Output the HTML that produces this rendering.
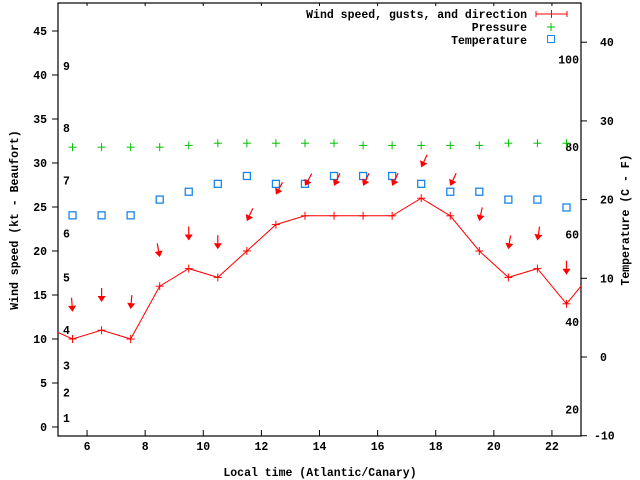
<!DOCTYPE html>
<html><head><meta charset="utf-8"><style>
body{margin:0;background:#fff}
svg{display:block}
text{font-family:"Liberation Mono",monospace;font-size:11.5px;font-weight:bold;fill:#000}
</style></head><body>
<svg id="chart" width="640" height="480" viewBox="0 0 640 480" xmlns="http://www.w3.org/2000/svg">
<rect width="640" height="480" fill="#fff"/>
<g id="grid"></g>
<g id="marks"></g>
<g id="legend">
<text x="527" y="18" text-anchor="end">Wind speed, gusts, and direction</text>
<text x="527" y="31" text-anchor="end">Pressure</text>
<text x="527" y="44" text-anchor="end">Temperature</text>
<g stroke="#f00" stroke-width="1"><line x1="536" y1="14" x2="567" y2="14"/><line x1="536" y1="11" x2="536" y2="17"/><line x1="567" y1="11" x2="567" y2="17"/><line x1="551.5" y1="10" x2="551.5" y2="18"/></g>
<g stroke="#00c000"><line x1="547" y1="27" x2="555" y2="27"/><line x1="551" y1="23" x2="551" y2="31"/></g>
<rect x="547.5" y="35.5" width="7" height="7" fill="none" stroke="#1a86e8"/>
</g>
<text x="320" y="476" text-anchor="middle">Local time (Atlantic/Canary)</text>
<text transform="translate(18,220) rotate(-90)" text-anchor="middle">Wind speed (kt - Beaufort)</text>
<text transform="translate(629,220) rotate(-90)" text-anchor="middle">Temperature (C - F)</text>
</svg>
<script>
const hours=[5.5,6.5,7.5,8.5,9.5,10.5,11.5,12.5,13.5,14.5,15.5,16.5,17.5,18.5,19.5,20.5,21.5,22.5];
const windSpeed=[10,11,10,16,18,17,20,23,24,24,24,24,26,24,20,17,18,14];
const windEdgeHours=[4.5,23.5];
const windEdgeSpeed=[11.5,18];
const gusts=[13.1,14.2,13.4,19.3,21.2,20.2,23.4,26.4,27.4,27.4,27.4,27.4,29.5,27.4,23.4,20.2,21.2,17.3];
const windDir=[356,0,5,350,0,0,25,28,29,25,25,25,25,25,12,9,9,0];
const pressure=[31.8,31.8,31.8,31.8,32.0,32.25,32.25,32.25,32.25,32.25,32.0,32.0,32.0,32.0,32.0,32.25,32.25,32.25];
const temperature=[18,18,18,20,21,22,23,22,22,23,23,23,22,21,21,20,20,19];
const xTicks=[6,8,10,12,14,16,18,20,22];
const yTicks=[0,5,10,15,20,25,30,35,40,45];
const y2Ticks=[-10,0,10,20,30,40];
const beaufortLabels=["1","2","3","4","5","6","7","8","9"];
const beaufortKt=[1.0,3.9,7.0,11.0,17.0,22.0,28.0,34.0,41.0];
const fahrenheitTicks=[20,40,60,80,100];

const L=58,R=581,T=3,B=436;
const X=h=>L+(h-5)*(R-L)/18;
const Y=v=>427-v*8.8;
const Y2=c=>357-c*7.87;
const NS="http://www.w3.org/2000/svg";
const svg=document.getElementById('chart');
const grid=document.getElementById('grid');
const marks=document.getElementById('marks');
function mk(tag,attrs,parent){const e=document.createElementNS(NS,tag);for(const k in attrs)e.setAttribute(k,attrs[k]);parent.appendChild(e);return e;}

const border=mk('rect',{x:L,y:T,width:R-L,height:B-T,fill:'none',stroke:'#000','stroke-width':1.2},grid);



xTicks.forEach(t=>{
  const x=X(t);
  const a=mk('line',{x1:x,y1:B,x2:x,y2:B-6,stroke:'#000'},grid);
  
  
  mk('line',{x1:x,y1:T,x2:x,y2:T+3,stroke:'#000'},grid);
  const tx=mk('text',{x:x,y:B+14,'text-anchor':'middle'},grid);
  tx.textContent=t;
  
  
});
yTicks.forEach(t=>{
  const y=Y(t);
  const a=mk('line',{x1:L-6,y1:y,x2:L,y2:y,stroke:'#000'},grid);
  
  
  const tx=mk('text',{x:47,y:y+4,'text-anchor':'end'},grid);
  tx.textContent=t;
  
  
});
y2Ticks.forEach(t=>{
  const y=Y2(t);
  const a=mk('line',{x1:R,y1:y,x2:R+6,y2:y,stroke:'#000'},grid);
  
  
  const tx=mk('text',{x:t<0?594:600,y:y+4,'text-anchor':'start'},grid);
  tx.textContent=t;
  
  
});
beaufortLabels.forEach((b,i)=>{
  const tx=mk('text',{x:63,y:Y(beaufortKt[i])+4},grid);
  tx.textContent=b;
  
  
});
fahrenheitTicks.forEach(f=>{
  const tx=mk('text',{x:579,y:Y2((f-32)/1.8)+4,'text-anchor':'end'},grid);
  tx.textContent=f;
  
  
});

const clip=mk('clipPath',{id:'pc'},svg);
mk('rect',{x:L,y:T,width:R-L,height:B-T},clip);
marks.setAttribute('clip-path','url(#pc)');

// wind line
const allH=[windEdgeHours[0]].concat(hours,[windEdgeHours[1]]);
const allS=[windEdgeSpeed[0]].concat(windSpeed,[windEdgeSpeed[1]]);
const pl=mk('polyline',{points:allH.map((h,i)=>X(h)+','+Y(allS[i])).join(' '),fill:'none',stroke:'#f00','stroke-width':1},marks);


hours.forEach((h,i)=>{
  const x=X(h),y=Y(windSpeed[i]);
  const g=mk('g',{stroke:'#f00','stroke-width':1},marks);
  
  
  mk('line',{x1:x-4,y1:y,x2:x+4,y2:y},g);mk('line',{x1:x,y1:y-4,x2:x,y2:y+4},g);
});
// pressure
hours.forEach((h,i)=>{
  const x=X(h),y=Y(pressure[i]);
  const g=mk('g',{stroke:'#00c000','stroke-width':1},marks);
  
  
  mk('line',{x1:x-4,y1:y,x2:x+4,y2:y},g);mk('line',{x1:x,y1:y-4,x2:x,y2:y+4},g);
});
// temperature
hours.forEach((h,i)=>{
  const x=X(h),y=Y2(temperature[i]);
  const r=mk('rect',{x:x-3.5,y:y-3.5,width:7,height:7,fill:'none',stroke:'#1a86e8','stroke-width':1.3},marks);
  
  
});
// gust/direction arrows
hours.forEach((h,i)=>{
  const tx=X(h),ty=Y(gusts[i]);
  const d=windDir[i]*Math.PI/180;
  const ux=-Math.sin(d),uy=Math.cos(d);
  const len=14,hl=6,hw=4;
  const g=mk('g',{},marks);
  
  
  mk('line',{x1:tx-ux*len,y1:ty-uy*len,x2:tx-ux*hl,y2:ty-uy*hl,stroke:'#f00','stroke-width':1.2},g);
  const bx=tx-ux*hl,by=ty-uy*hl,px=-uy,py=ux;
  mk('polygon',{points:`${tx},${ty} ${bx+px*hw},${by+py*hw} ${bx-px*hw},${by-py*hw}`,fill:'#f00'},g);
});
</script>
</body></html>
